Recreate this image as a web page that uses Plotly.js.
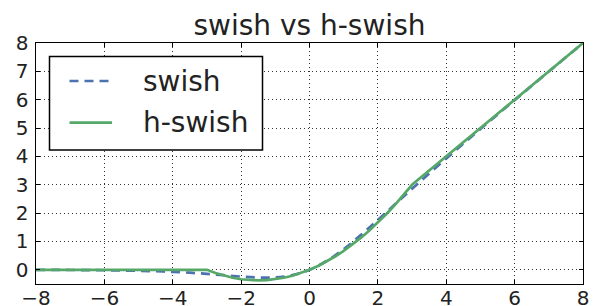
<!DOCTYPE html>
<html><head><meta charset="utf-8">
<script src="https://cdn.plot.ly/plotly-3.0.1.min.js"></script>
<style>html,body{margin:0;padding:0;background:#fff}</style>
</head><body><div id="chart" style="width:594px;height:306px"></div>
<script>
// swish curve
const swishX = [-8,-7.5,-7,-6.5,-6,-5.5,-5,-4.5,-4,-3.5,-3,-2.5,-2,-1.5,-1,-0.5,0,0.5,1,1.5,2,2.5,3,3.5,4,4.5,5,5.5,6,6.5,7,7.5,8];
const swishY = [-0.003,-0.004,-0.006,-0.010,-0.015,-0.022,-0.034,-0.050,-0.072,-0.102,-0.142,-0.190,-0.238,-0.274,-0.269,-0.189,0,0.311,0.731,1.226,1.762,2.310,2.858,3.398,3.928,4.451,4.967,5.478,5.985,6.490,6.994,7.496,7.997];
// h-swish curve
const hswishX = [-8,-3,-2.75,-2.5,-2.25,-2,-1.75,-1.5,-1.25,-1,-0.75,-0.5,-0.25,0,0.25,0.5,0.75,1,1.25,1.5,1.75,2,2.25,2.5,2.75,3,8];
const hswishY = [0,0,-0.115,-0.208,-0.281,-0.333,-0.365,-0.375,-0.365,-0.333,-0.281,-0.208,-0.115,0,0.135,0.292,0.469,0.667,0.885,1.125,1.385,1.667,1.969,2.292,2.635,3,8];
const xTicks = [-8,-6,-4,-2,0,2,4,6,8];
const xTickText = ["\u22128","\u22126","\u22124","\u22122","0","2","4","6","8"];
const yTicks = [0,1,2,3,4,5,6,7,8];
const seriesNames = ["swish", "h-swish"];

const font = "DejaVu Sans, sans-serif";
const ink = "#222222";
const blue = "#4C72B0", green = "#55A868";
const M = {l: 36, r: 11, t: 43, b: 22};
const W = 594, H = 306;
const pw = W - M.l - M.r, ph = H - M.t - M.b;
const px = v => (v - M.l) / pw;          // pixel -> paper x
const py = v => (H - M.b - v) / ph;      // pixel -> paper y

const traces = [
  {x: swishX, y: swishY, name: seriesNames[0], mode: "lines", type: "scatter",
   line: {color: blue, width: 2.7, dash: "9px,6px", shape: "spline"}},
  {x: hswishX, y: hswishY, name: seriesNames[1], mode: "lines", type: "scatter",
   line: {color: green, width: 2.7}}
];
const axisCommon = {
  showline: true, linecolor: "#000", linewidth: 1.4, mirror: "allticks",
  ticks: "inside", ticklen: 4, tickcolor: "#000", tickwidth: 1,
  showgrid: true, gridcolor: "#333", griddash: "1px,3px", gridwidth: 1,
  zeroline: false, tickfont: {family: font, size: 20, color: ink}
};
const legendShapes = [
  {type: "rect", xref: "paper", yref: "paper", x0: px(49.5), x1: px(262.5), y0: py(150), y1: py(56.5),
   line: {color: "#000", width: 1.5}, fillcolor: "#fff", layer: "above"},
  {type: "line", xref: "paper", yref: "paper", x0: px(69.5), x1: px(112), y0: py(81), y1: py(81),
   line: {color: blue, width: 2.7, dash: "9px,6px"}, layer: "above"},
  {type: "line", xref: "paper", yref: "paper", x0: px(69.5), x1: px(112), y0: py(122.7), y1: py(122.7),
   line: {color: green, width: 2.7}, layer: "above"}
];
const legendText = [
  {text: seriesNames[0], xref: "paper", yref: "paper", x: px(142), y: py(81), xanchor: "left", yanchor: "middle",
   showarrow: false, borderpad: 0, font: {family: font, size: 28, color: ink}},
  {text: seriesNames[1], xref: "paper", yref: "paper", x: px(142), y: py(122.7), xanchor: "left", yanchor: "middle",
   showarrow: false, borderpad: 0, font: {family: font, size: 28, color: ink}}
];
const layout = {
  width: W, height: H,
  margin: M,
  paper_bgcolor: "#fff", plot_bgcolor: "#fff",
  font: {family: font, color: ink},
  title: {text: "swish vs h-swish", font: {family: font, size: 28, color: ink},
          x: 0.521, xanchor: "center", y: 0.918, yanchor: "middle"},
  xaxis: Object.assign({}, axisCommon, {range: [-8, 8], tickvals: xTicks, ticktext: xTickText, ticklabelstandoff: -4}),
  yaxis: Object.assign({}, axisCommon, {range: [-0.5, 8], tickvals: yTicks, ticklabelstandoff: 2}),
  showlegend: false,
  shapes: legendShapes,
  annotations: legendText
};
Plotly.newPlot("chart", traces, layout, {displayModeBar: false, staticPlot: true});
</script></body></html>
